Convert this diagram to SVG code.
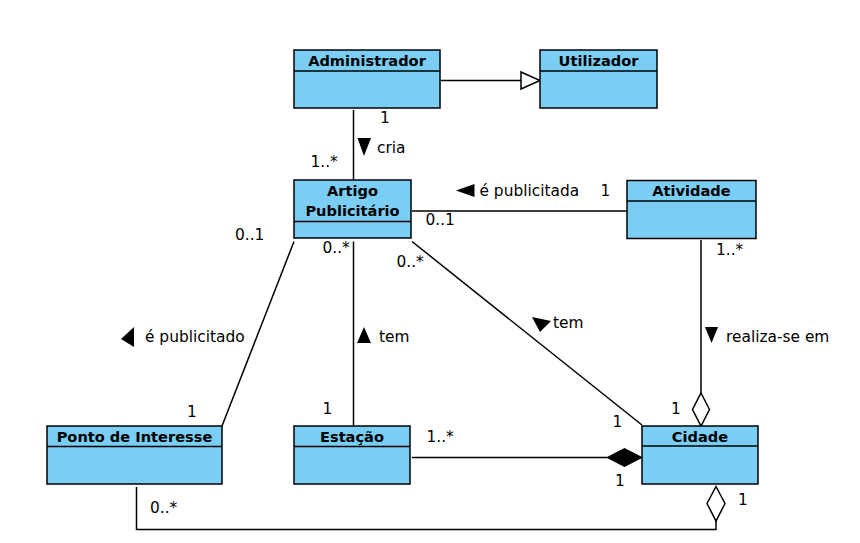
<svg xmlns="http://www.w3.org/2000/svg" width="860" height="543" viewBox="0 0 860 543">
<style>
.box{fill:#7acef3;stroke:#000;stroke-width:1.5}
.hl{stroke:#000;stroke-width:1.5}
.title{font-family:"DejaVu Sans",sans-serif;font-weight:bold;font-size:14.6px;text-anchor:middle;fill:#000}
.lbl{font-family:"DejaVu Sans",sans-serif;font-size:15.4px;fill:#000}
.ln{fill:none;stroke:#000;stroke-width:1.5}
.tri{fill:#000;stroke:none}
</style>
<rect width="860" height="543" fill="#fff"/>
<g id="connectors">
<line class="ln" x1="441" y1="80.5" x2="521" y2="80.5"/>
<polygon points="521,72 540,80.5 521,89" fill="#fff" stroke="#000" stroke-width="1.5"/>
<line class="ln" x1="353.5" y1="110" x2="353.5" y2="180"/>
<line class="ln" x1="412" y1="211" x2="627" y2="211"/>
<line class="ln" x1="294" y1="241.5" x2="222" y2="426"/>
<line class="ln" x1="353.5" y1="241.5" x2="353.5" y2="426"/>
<line class="ln" x1="412" y1="241.5" x2="642" y2="425"/>
<line class="ln" x1="412" y1="457.5" x2="607" y2="457.5"/>
<polygon points="607,457.5 624.5,448.5 642,457.5 624.5,466.5" fill="#000" stroke="#000" stroke-width="1"/>
<line class="ln" x1="701" y1="240" x2="701" y2="393"/>
<polygon points="701,393 709.5,409.5 701,426 692.5,409.5" fill="#fff" stroke="#000" stroke-width="1.5"/>
<polyline class="ln" points="716,521 716,529.5 136.5,529.5 136.5,487"/>
<polygon points="716,486.5 725,503.5 716,521 707,503.5" fill="#fff" stroke="#000" stroke-width="1.5"/>
<text class="lbl" x="380" y="123">1</text>
<text class="lbl" x="310.5" y="167">1..*</text>
<polygon class="tri" points="357.5,138 371,138 364,156"/>
<text class="lbl" x="377" y="153">cria</text>
<polygon class="tri" points="456,190.5 474.5,184 474.5,197"/>
<text class="lbl" x="479.5" y="196">é publicitada</text>
<text class="lbl" x="600.5" y="196">1</text>
<text class="lbl" x="425.5" y="225">0..1</text>
<text class="lbl" x="235" y="240">0..1</text>
<text class="lbl" x="322.5" y="253">0..*</text>
<text class="lbl" x="396.5" y="267">0..*</text>
<polygon class="tri" points="121,339 134,327 134,347"/>
<text class="lbl" x="145" y="342">é publicitado</text>
<polygon class="tri" points="357,343 364,327 371,343"/>
<text class="lbl" x="379" y="342">tem</text>
<polygon class="tri" points="532,317 551,321 540,332"/>
<text class="lbl" x="553" y="328">tem</text>
<polygon class="tri" points="705,327 718,327 711.5,343"/>
<text class="lbl" x="726" y="342">realiza-se em</text>
<text class="lbl" x="716" y="255">1..*</text>
<text class="lbl" x="187" y="417">1</text>
<text class="lbl" x="322.5" y="414">1</text>
<text class="lbl" x="426.5" y="442">1..*</text>
<text class="lbl" x="612.5" y="427">1</text>
<text class="lbl" x="671" y="414">1</text>
<text class="lbl" x="615" y="486">1</text>
<text class="lbl" x="738" y="505">1</text>
<text class="lbl" x="150" y="513">0..*</text>
</g>
<g id="administrador">
<rect class="box" x="294" y="50" width="146" height="58"/>
<line class="hl" x1="294" y1="71" x2="440" y2="71"/>
<text class="title" x="367" y="66">Administrador</text>
</g>
<g id="utilizador">
<rect class="box" x="540" y="50" width="117" height="58"/>
<line class="hl" x1="540" y1="71" x2="657" y2="71"/>
<text class="title" x="598.5" y="66">Utilizador</text>
</g>
<g id="artigo">
<rect class="box" x="294" y="180" width="117" height="58"/>
<line class="hl" x1="294" y1="221.5" x2="411" y2="221.5"/>
<text class="title" x="352.5" y="196">Artigo</text>
<text class="title" x="352.5" y="216">Publicitário</text>
</g>
<g id="atividade">
<rect class="box" x="627" y="180.5" width="129" height="58"/>
<line class="hl" x1="627" y1="201" x2="756" y2="201"/>
<text class="title" x="691.5" y="196">Atividade</text>
</g>
<g id="ponto">
<rect class="box" x="47" y="426" width="175" height="58"/>
<line class="hl" x1="47" y1="446.5" x2="222" y2="446.5"/>
<text class="title" x="134.5" y="442">Ponto de Interesse</text>
</g>
<g id="estacao">
<rect class="box" x="294" y="426" width="116" height="58"/>
<line class="hl" x1="294" y1="446.5" x2="410" y2="446.5"/>
<text class="title" x="352" y="442">Estação</text>
</g>
<g id="cidade">
<rect class="box" x="642" y="426" width="116" height="58"/>
<line class="hl" x1="642" y1="446" x2="758" y2="446"/>
<text class="title" x="700" y="442">Cidade</text>
</g>
</svg>
